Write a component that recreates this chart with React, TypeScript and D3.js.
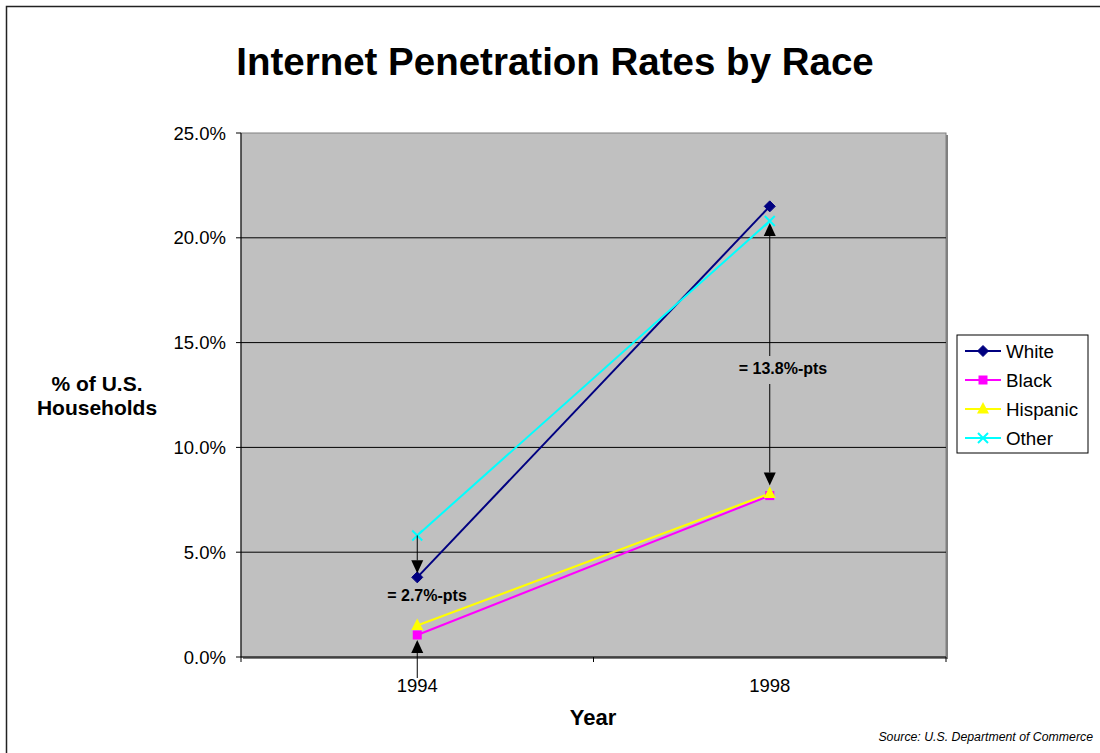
import React from "react";
import * as d3 from "d3";

const years = ["1994", "1998"];
const white = [3.8, 21.5];
const black = [1.05, 7.7];
const hispanic = [1.5, 7.8];
const other = [5.8, 20.8];
const yTicks = [0, 5, 10, 15, 20, 25];

const seriesNames = ["White", "Black", "Hispanic", "Other"];
const seriesValues = [white, black, hispanic, other];
const seriesColors = ["#000080", "#FF00FF", "#FFFF00", "#00FFFF"];
const seriesMarkers = ["diamond", "square", "triangle", "x"];

const W = 1100;
const H = 753;
const plot = { left: 241, right: 946, top: 133, bottom: 657 };
const FONT = "Liberation Sans, Arial, sans-serif";

function Marker({ type, x, y, color }: { type: string; x: number; y: number; color: string }) {
  if (type === "diamond") {
    const s = 5.5;
    return <path d={`M${x},${y - s}L${x + s},${y}L${x},${y + s}L${x - s},${y}Z`} fill={color} stroke={color} />;
  }
  if (type === "square") {
    return <rect x={x - 4.5} y={y - 4.5} width={9} height={9} fill={color} />;
  }
  if (type === "triangle") {
    return <path d={`M${x},${y - 7}L${x + 6},${y + 4.5}L${x - 6},${y + 4.5}Z`} fill={color} />;
  }
  const s = 5;
  return (
    <path d={`M${x - s},${y - s}L${x + s},${y + s}M${x - s},${y + s}L${x + s},${y - s}`} stroke={color} strokeWidth={2} />
  );
}

function Arrow({ x, y1, y2 }: { x: number; y1: number; y2: number }) {
  const dir = y2 > y1 ? 1 : -1;
  const headLen = 13;
  const headW = 6;
  return (
    <g>
      <line x1={x} y1={y1} x2={x} y2={y2 - dir * headLen} stroke="#000" strokeWidth={1} />
      <path d={`M${x},${y2}L${x - headW},${y2 - dir * headLen}L${x + headW},${y2 - dir * headLen}Z`} fill="#000" />
    </g>
  );
}

export default function App() {
  const x = d3.scaleBand<string>().domain(years).range([plot.left, plot.right]);
  const y = d3.scaleLinear().domain([0, 25]).range([plot.bottom, plot.top]);
  const cx = (yr: string) => (x(yr) as number) + x.bandwidth() / 2;
  const line = d3
    .line<number>()
    .x((_, i) => cx(years[i]))
    .y((d) => y(d));

  const x94 = cx("1994");
  const x98 = cx("1998");

  const legendX = 957;
  const legendY = 335;
  const legendRowH = 29;

  return (
    <svg width={W} height={H} style={{ position: "absolute", left: 0, top: 0 }} fontFamily={FONT}>
      <rect x={0} y={0} width={W} height={H} fill="#fff" />
      <rect x={6.5} y={6.5} width={W + 10} height={H + 10} fill="none" stroke="#222" strokeWidth={1.5} />
      <text x={555} y={75} textAnchor="middle" fontSize={38.5} fontWeight="bold">
        Internet Penetration Rates by Race
      </text>

      <rect x={plot.left + 2} y={plot.top + 2} width={plot.right - plot.left} height={plot.bottom - plot.top} fill="#808080" />
      <rect x={plot.left} y={plot.top} width={plot.right - plot.left} height={plot.bottom - plot.top} fill="#C0C0C0" stroke="#808080" strokeWidth={1} />

      {yTicks.filter((t) => t > 0 && t < 25).map((t) => (
        <line key={t} x1={plot.left} x2={plot.right} y1={y(t)} y2={y(t)} stroke="#000" strokeWidth={1} />
      ))}

      <line x1={plot.left} x2={plot.left} y1={plot.top} y2={plot.bottom} stroke="#000" />
      <line x1={plot.left} x2={plot.right} y1={plot.bottom} y2={plot.bottom} stroke="#000" />
      {yTicks.map((t) => (
        <g key={t}>
          <line x1={plot.left - 5} x2={plot.left} y1={y(t)} y2={y(t)} stroke="#000" />
          <text x={226} y={y(t) + 6.5} textAnchor="end" fontSize={18.5}>
            {t.toFixed(1) + "%"}
          </text>
        </g>
      ))}
      {[...years.map((yr) => x(yr) as number), plot.right].map((px, i) => (
        <line key={i} x1={px} x2={px} y1={plot.bottom} y2={plot.bottom + 5} stroke="#000" />
      ))}
      {years.map((yr) => (
        <text key={yr} x={cx(yr)} y={692} textAnchor="middle" fontSize={18.5}>
          {yr}
        </text>
      ))}

      <text x={593} y={725} textAnchor="middle" fontSize={22} fontWeight="bold">
        Year
      </text>
      <text x={97} y={391} textAnchor="middle" fontSize={21} fontWeight="bold">
        % of U.S.
      </text>
      <text x={97} y={415} textAnchor="middle" fontSize={21} fontWeight="bold">
        Households
      </text>

      {seriesValues.map((vals, i) => (
        <path key={i} d={line(vals) as string} fill="none" stroke={seriesColors[i]} strokeWidth={2} />
      ))}
      {seriesValues.map((vals, i) =>
        vals.map((v, j) => <Marker key={`${i}-${j}`} type={seriesMarkers[i]} x={cx(years[j])} y={y(v)} color={seriesColors[i]} />)
      )}

      <Arrow x={x94} y1={y(other[0])} y2={y(white[0]) - 4} />
      <Arrow x={x94} y1={678} y2={y(black[0]) + 5} />
      <text x={427} y={601} textAnchor="middle" fontSize={16} fontWeight="bold">
        = 2.7%-pts
      </text>
      <Arrow x={x98} y1={356} y2={y(other[1]) + 2} />
      <Arrow x={x98} y1={384} y2={y(hispanic[1]) - 8} />
      <text x={783} y={374} textAnchor="middle" fontSize={16} fontWeight="bold">
        = 13.8%-pts
      </text>

      <rect x={legendX} y={legendY} width={131} height={118} fill="#fff" stroke="#000" />
      {seriesNames.map((name, i) => {
        const ly = legendY + 16 + i * legendRowH;
        return (
          <g key={name}>
            <line x1={965} x2={1001} y1={ly} y2={ly} stroke={seriesColors[i]} strokeWidth={2} />
            <Marker type={seriesMarkers[i]} x={983} y={ly} color={seriesColors[i]} />
            <text x={1006} y={ly + 6.5} fontSize={18.8}>
              {name}
            </text>
          </g>
        );
      })}

      <text x={1093} y={741} textAnchor="end" fontSize={12.3} fontStyle="italic">
        Source: U.S. Department of Commerce
      </text>
    </svg>
  );
}
